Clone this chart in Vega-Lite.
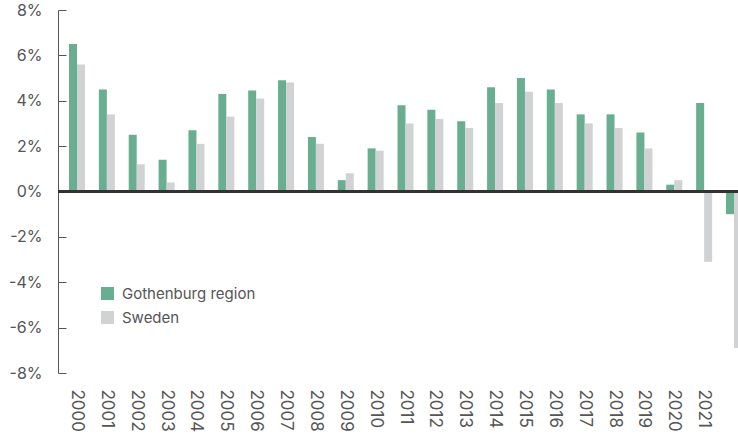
{
  "$schema": "https://vega.github.io/schema/vega-lite/v6.json",
  "width": 680,
  "height": 363,
  "autosize": "none",
  "padding": {"left": 58, "top": 10, "right": 0, "bottom": 65},
  "background": "white",
  "config": {
    "view": {"stroke": null},
    "font": "Inter",
    "axis": {"labelFont": "Inter", "labelColor": "#555555"},
    "legend": {"labelFont": "Inter"}
  },
  "data": {
    "values": [
      {"year": "2000", "series": "Gothenburg region", "value": 6.5},
      {"year": "2000", "series": "Sweden", "value": 5.6},
      {"year": "2001", "series": "Gothenburg region", "value": 4.5},
      {"year": "2001", "series": "Sweden", "value": 3.4},
      {"year": "2002", "series": "Gothenburg region", "value": 2.5},
      {"year": "2002", "series": "Sweden", "value": 1.2},
      {"year": "2003", "series": "Gothenburg region", "value": 1.4},
      {"year": "2003", "series": "Sweden", "value": 0.4},
      {"year": "2004", "series": "Gothenburg region", "value": 2.7},
      {"year": "2004", "series": "Sweden", "value": 2.1},
      {"year": "2005", "series": "Gothenburg region", "value": 4.3},
      {"year": "2005", "series": "Sweden", "value": 3.3},
      {"year": "2006", "series": "Gothenburg region", "value": 4.45},
      {"year": "2006", "series": "Sweden", "value": 4.1},
      {"year": "2007", "series": "Gothenburg region", "value": 4.9},
      {"year": "2007", "series": "Sweden", "value": 4.8},
      {"year": "2008", "series": "Gothenburg region", "value": 2.4},
      {"year": "2008", "series": "Sweden", "value": 2.1},
      {"year": "2009", "series": "Gothenburg region", "value": 0.5},
      {"year": "2009", "series": "Sweden", "value": 0.8},
      {"year": "2010", "series": "Gothenburg region", "value": 1.9},
      {"year": "2010", "series": "Sweden", "value": 1.8},
      {"year": "2011", "series": "Gothenburg region", "value": 3.8},
      {"year": "2011", "series": "Sweden", "value": 3.0},
      {"year": "2012", "series": "Gothenburg region", "value": 3.6},
      {"year": "2012", "series": "Sweden", "value": 3.2},
      {"year": "2013", "series": "Gothenburg region", "value": 3.1},
      {"year": "2013", "series": "Sweden", "value": 2.8},
      {"year": "2014", "series": "Gothenburg region", "value": 4.6},
      {"year": "2014", "series": "Sweden", "value": 3.9},
      {"year": "2015", "series": "Gothenburg region", "value": 5.0},
      {"year": "2015", "series": "Sweden", "value": 4.4},
      {"year": "2016", "series": "Gothenburg region", "value": 4.5},
      {"year": "2016", "series": "Sweden", "value": 3.9},
      {"year": "2017", "series": "Gothenburg region", "value": 3.4},
      {"year": "2017", "series": "Sweden", "value": 3.0},
      {"year": "2018", "series": "Gothenburg region", "value": 3.4},
      {"year": "2018", "series": "Sweden", "value": 2.8},
      {"year": "2019", "series": "Gothenburg region", "value": 2.6},
      {"year": "2019", "series": "Sweden", "value": 1.9},
      {"year": "2020", "series": "Gothenburg region", "value": 0.3},
      {"year": "2020", "series": "Sweden", "value": 0.5},
      {"year": "2021", "series": "Gothenburg region", "value": 3.9},
      {"year": "2021", "series": "Sweden", "value": -3.1},
      {"year": "2022", "series": "Gothenburg region", "value": -1.0},
      {"year": "2022", "series": "Sweden", "value": -6.9}
    ]
  },
  "layer": [
    {
      "mark": {"type": "bar", "clip": true},
      "encoding": {
        "x": {
          "field": "year",
          "type": "nominal",
          "sort": null,
          "scale": {"range": [11, 684], "paddingInner": 0.464, "paddingOuter": 0},
          "axis": {
            "title": null,
            "domain": false,
            "ticks": false,
            "labelAngle": 90,
            "labelFontSize": 17,
            "labelPadding": 16,
            "labelExpr": "datum.value == '2022' ? '' : datum.value"
          }
        },
        "xOffset": {"field": "series", "type": "nominal", "sort": ["Gothenburg region", "Sweden"]},
        "y": {
          "field": "value",
          "type": "quantitative",
          "scale": {"domain": [-8, 8], "nice": false},
          "axis": {
            "title": null,
            "grid": false,
            "values": [-8, -6, -4, -2, 0, 2, 4, 6, 8],
            "labelExpr": "datum.value + '%'",
            "labelFontSize": 16,
            "domainColor": "#555555",
            "tickColor": "#555555",
            "tickSize": -8,
            "labelPadding": 24
          }
        },
        "color": {
          "field": "series",
          "type": "nominal",
          "sort": ["Gothenburg region", "Sweden"],
          "scale": {"domain": ["Gothenburg region", "Sweden"], "range": ["#6aae92", "#d1d2d4"]},
          "legend": {
            "title": null,
            "orient": "none",
            "legendX": 42,
            "legendY": 276,
            "padding": 0,
            "symbolType": "square",
            "symbolSize": 169,
            "symbolStrokeWidth": 0,
            "labelFontSize": 15,
            "labelColor": "#555555",
            "labelOffset": 7,
            "rowPadding": 8
          }
        }
      }
    },
    {
      "mark": {"type": "rule", "color": "#333333", "strokeWidth": 2},
      "encoding": {"y": {"datum": 0, "type": "quantitative"}}
    }
  ]
}
